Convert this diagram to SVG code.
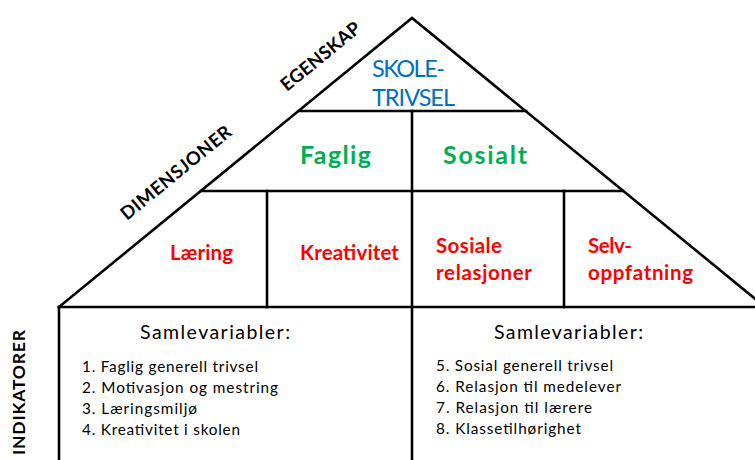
<svg xmlns="http://www.w3.org/2000/svg" width="755" height="460" viewBox="0 0 755 460">
<style>
.ln{stroke:#000;stroke-width:2.6;fill:none;stroke-linecap:square}
text{font-family:Lato,"Open Sans","Liberation Sans",sans-serif}
.top{fill:#0070C0;font-size:23.5px}
.dim{fill:#00B050;font-size:25px;font-weight:bold}
.sub{fill:#FF0000;font-size:20.5px;font-weight:bold}
.lab{fill:#000;font-size:18.5px;font-weight:bold}
.hd{fill:#000;font-size:19.5px}
.it{fill:#000;font-size:15.3px}
</style>
<rect width="755" height="460" fill="#fff"/>
<g id="connectors">
<polyline class="ln" points="59,307 412,18 770,311"/>
<line class="ln" x1="299" y1="111" x2="526" y2="111"/>
<line class="ln" x1="201" y1="191" x2="623" y2="191"/>
<line class="ln" x1="59" y1="307" x2="760" y2="307"/>
<line class="ln" x1="59" y1="307" x2="59" y2="465"/>
<line class="ln" x1="412" y1="111" x2="412" y2="465"/>
<line class="ln" x1="267" y1="191" x2="267" y2="307"/>
<line class="ln" x1="564" y1="191" x2="564" y2="307"/>
</g>
<g id="skoletrivsel">
<text class="top" x="372" y="77" textLength="73">SKOLE-</text>
<text class="top" x="372" y="105.5" textLength="83">TRIVSEL</text>
</g>
<g id="faglig"><text class="dim" x="300" y="164" textLength="71">Faglig</text></g>
<g id="sosialt"><text class="dim" x="443" y="164" textLength="84">Sosialt</text></g>
<g id="laering"><text class="sub" x="170" y="260" textLength="63">Læring</text></g>
<g id="kreativitet"><text class="sub" x="300" y="260" textLength="99">Kreativitet</text></g>
<g id="sosiale-relasjoner">
<text class="sub" x="436" y="253" textLength="66">Sosiale</text>
<text class="sub" x="436" y="280" textLength="96">relasjoner</text>
</g>
<g id="selvoppfatning">
<text class="sub" x="588" y="253" textLength="44">Selv-</text>
<text class="sub" x="588" y="280" textLength="105">oppfatning</text>
</g>
<g id="egenskap"><text class="lab" transform="translate(287,92) rotate(-39.3)" textLength="97">EGENSKAP</text></g>
<g id="dimensjoner"><text class="lab" transform="translate(127,221) rotate(-39.3)" textLength="137">DIMENSJONER</text></g>
<g id="indikatorer"><text class="lab" style="font-size:17.5px" transform="translate(25,455) rotate(-90)" textLength="125">INDIKATORER</text></g>
<g id="faglig-variabler">
<text class="hd" x="140" y="339" textLength="150">Samlevariabler:</text>
<text class="it" x="82" y="371.5" textLength="176">1. Faglig generell trivsel</text>
<text class="it" x="82" y="392.5" textLength="196">2. Motivasjon og mestring</text>
<text class="it" x="82" y="413.5" textLength="115">3. Læringsmiljø</text>
<text class="it" x="82" y="434.5" textLength="158">4. Kreativitet i skolen</text>
</g>
<g id="sosial-variabler">
<text class="hd" x="494" y="339" textLength="149">Samlevariabler:</text>
<text class="it" x="436" y="370.5" textLength="177">5. Sosial generell trivsel</text>
<text class="it" x="436" y="392" textLength="185">6. Relasjon til medelever</text>
<text class="it" x="436" y="413" textLength="156">7. Relasjon til lærere</text>
<text class="it" x="436" y="434" textLength="145">8. Klassetilhørighet</text>
</g>
</svg>
